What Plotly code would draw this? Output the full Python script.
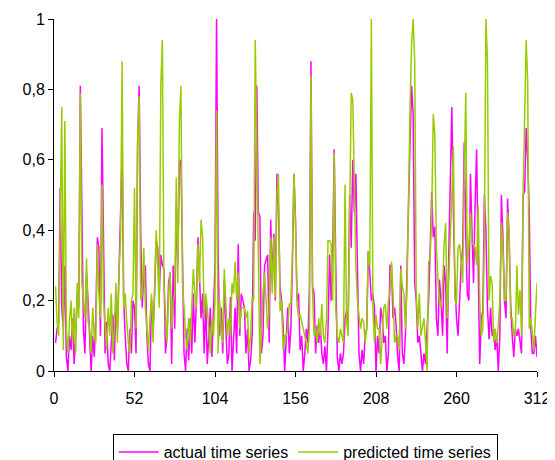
import plotly.graph_objects as go

x_values = list(range(1, 313))

actual = [
    0.08, 0.12, 0.14, 0.52, 0.18, 0.12, 0.30, 0.04, 0.00, 0.10,
    0.06, 0.15, 0.02, 0.10, 0.22, 0.18, 0.81, 0.45, 0.12, 0.05,
    0.28, 0.20, 0.08, 0.00, 0.10, 0.04, 0.15, 0.38, 0.35, 0.10,
    0.69, 0.37, 0.05, 0.14, 0.02, 0.00, 0.08, 0.16, 0.03, 0.20,
    0.12, 0.26, 0.45, 0.62, 0.20, 0.10, 0.02, 0.00, 0.12, 0.05,
    0.20, 0.18, 0.05, 0.64, 0.81, 0.40, 0.18, 0.28, 0.30, 0.10,
    0.02, 0.00, 0.20, 0.12, 0.22, 0.37, 0.35, 0.22, 0.33, 0.30,
    0.29, 0.05, 0.10, 0.25, 0.28, 0.02, 0.30, 0.12, 0.47, 0.30,
    0.59, 0.60, 0.32, 0.05, 0.00, 0.12, 0.03, 0.15, 0.05, 0.22,
    0.08, 0.20, 0.38, 0.28, 0.15, 0.22, 0.05, 0.20, 0.02, 0.10,
    0.18, 0.04, 0.20, 0.30, 1.00, 0.34, 0.10, 0.18, 0.05, 0.26,
    0.12, 0.02, 0.05, 0.21, 0.00, 0.10, 0.18, 0.05, 0.36, 0.10,
    0.22, 0.20, 0.18, 0.05, 0.12, 0.00, 0.03, 0.10, 0.45, 0.37,
    0.81, 0.45, 0.44, 0.05, 0.10, 0.30, 0.32, 0.33, 0.08, 0.43,
    0.25, 0.39, 0.20, 0.56, 0.46, 0.24, 0.20, 0.13, 0.00, 0.10,
    0.18, 0.05, 0.12, 0.30, 0.56, 0.43, 0.20, 0.22, 0.06, 0.10,
    0.00, 0.05, 0.12, 0.08, 0.24, 0.88, 0.24, 0.22, 0.05, 0.13,
    0.08, 0.13, 0.05, 0.02, 0.07, 0.00, 0.12, 0.33, 0.20, 0.33,
    0.63, 0.30, 0.04, 0.00, 0.05, 0.02, 0.05, 0.15, 0.17, 0.14,
    0.50, 0.35, 0.60, 0.45, 0.56, 0.30, 0.05, 0.00, 0.06, 0.02,
    0.10, 0.12, 0.34, 0.28, 0.20, 0.22, 0.18, 0.00, 0.10, 0.05,
    0.18, 0.15, 0.08, 0.10, 0.00, 0.05, 0.30, 0.30, 0.15, 0.18,
    0.13, 0.04, 0.00, 0.30, 0.05, 0.02, 0.10, 0.28, 0.43, 0.65,
    0.81, 0.73, 0.25, 0.20, 0.08, 0.10, 0.05, 0.00, 0.05, 0.02,
    0.12, 0.20, 0.35, 0.51, 0.38, 0.41, 0.15, 0.10, 0.26, 0.20,
    0.10, 0.30, 0.25, 0.05, 0.33, 0.56, 0.75, 0.45, 0.25, 0.15,
    0.10, 0.20, 0.30, 0.35, 0.65, 0.38, 0.22, 0.20, 0.56, 0.40,
    0.25, 0.47, 0.63, 0.30, 0.02, 0.15, 0.17, 0.50, 0.40, 0.18,
    0.09, 0.18, 0.10, 0.12, 0.06, 0.10, 0.00, 0.10, 0.50, 0.38,
    0.20, 0.15, 0.49, 0.37, 0.19, 0.10, 0.04, 0.12, 0.10, 0.12,
    0.08, 0.05, 0.50, 0.51, 0.69, 0.60, 0.45, 0.12, 0.05, 0.05,
    0.10, 0.04,
]

predicted = [
    0.24, 0.14, 0.10, 0.51, 0.75, 0.06, 0.71, 0.12, 0.05, 0.14,
    0.20, 0.08, 0.18, 0.05, 0.25, 0.15, 0.79, 0.25, 0.20, 0.15,
    0.32, 0.14, 0.12, 0.05, 0.18, 0.10, 0.08, 0.36, 0.22, 0.15,
    0.53, 0.20, 0.13, 0.06, 0.18, 0.10, 0.22, 0.05, 0.12, 0.25,
    0.08, 0.28, 0.38, 0.88, 0.18, 0.22, 0.14, 0.08, 0.05, 0.20,
    0.22, 0.52, 0.12, 0.65, 0.78, 0.20, 0.22, 0.35, 0.18, 0.12,
    0.06, 0.15, 0.22, 0.08, 0.28, 0.40, 0.30, 0.18, 0.81, 0.94,
    0.25, 0.15, 0.08, 0.22, 0.28, 0.12, 0.20, 0.22, 0.55, 0.25,
    0.71, 0.81, 0.25, 0.18, 0.10, 0.06, 0.15, 0.08, 0.20, 0.29,
    0.22, 0.18, 0.36, 0.25, 0.43, 0.38, 0.15, 0.22, 0.18, 0.12,
    0.05, 0.15, 0.10, 0.20, 0.74, 0.05, 0.20, 0.12, 0.08, 0.29,
    0.18, 0.10, 0.15, 0.10, 0.25, 0.22, 0.31, 0.20, 0.28, 0.12,
    0.18, 0.18, 0.18, 0.15, 0.17, 0.05, 0.10, 0.21, 0.20, 0.94,
    0.64, 0.30, 0.02, 0.10, 0.22, 0.28, 0.20, 0.12, 0.18, 0.38,
    0.22, 0.38, 0.21, 0.50, 0.56, 0.17, 0.20, 0.06, 0.10, 0.10,
    0.12, 0.19, 0.19, 0.33, 0.56, 0.42, 0.19, 0.15, 0.16, 0.14,
    0.12, 0.10, 0.08, 0.05, 0.12, 0.84, 0.22, 0.10, 0.12, 0.08,
    0.15, 0.10, 0.19, 0.10, 0.08, 0.15, 0.37, 0.37, 0.36, 0.20,
    0.62, 0.18, 0.10, 0.08, 0.12, 0.10, 0.08, 0.53, 0.14, 0.10,
    0.48, 0.79, 0.77, 0.50, 0.30, 0.20, 0.15, 0.12, 0.15, 0.14,
    0.08, 0.12, 0.34, 0.30, 1.00, 0.18, 0.08, 0.16, 0.12, 0.12,
    0.02, 0.10, 0.18, 0.19, 0.12, 0.20, 0.22, 0.31, 0.22, 0.08,
    0.10, 0.10, 0.06, 0.29, 0.24, 0.22, 0.12, 0.23, 0.56, 0.75,
    0.93, 1.00, 0.88, 0.22, 0.12, 0.22, 0.10, 0.13, 0.15, 0.08,
    0.00, 0.31, 0.32, 0.45, 0.73, 0.67, 0.35, 0.26, 0.20, 0.18,
    0.24, 0.36, 0.42, 0.15, 0.30, 0.38, 0.50, 0.64, 0.20, 0.19,
    0.35, 0.36, 0.31, 0.25, 0.55, 0.79, 0.30, 0.36, 0.45, 0.36,
    0.36, 0.35, 0.30, 0.47, 0.20, 0.10, 0.12, 0.37, 1.00, 0.88,
    0.20, 0.27, 0.25, 0.08, 0.12, 0.08, 0.13, 0.20, 0.42, 0.35,
    0.20, 0.20, 0.45, 0.40, 0.15, 0.15, 0.10, 0.10, 0.30, 0.16,
    0.23, 0.10, 0.50, 0.76, 0.94, 0.82, 0.12, 0.15, 0.10, 0.06,
    0.16, 0.25,
]

x_ticks = [0, 52, 104, 156, 208, 260, 312]
y_ticks = [0, 0.2, 0.4, 0.6, 0.8, 1.0]

font_family = "Liberation Sans, Arial, sans-serif"

fig = go.Figure()
fig.add_trace(go.Scatter(
    x=x_values, y=actual, mode="lines", name="actual time series",
    line=dict(color="#FF00FF", width=1.5),
))
fig.add_trace(go.Scatter(
    x=x_values, y=predicted, mode="lines", name="predicted time series",
    line=dict(color="#99CC00", width=1.5),
))

# the page body has an 8px margin, so the figure is 547x452 and sits at (8, 8)
fig.update_layout(
    width=547, height=452,
    margin=dict(l=46, r=18, t=11, b=89, autoexpand=False),
    paper_bgcolor="white", plot_bgcolor="white",
    separators=", ",
    font=dict(family=font_family, size=16, color="black"),
    showlegend=True,
    legend=dict(
        orientation="h", x=0.52, xanchor="center", y=-0.179, yanchor="top",
        bordercolor="black", borderwidth=1, bgcolor="white",
        font=dict(family=font_family, size=16, color="black"),
        itemwidth=40, tracegroupgap=0,
    ),
)
fig.update_xaxes(
    range=[0, 312], tickvals=x_ticks, ticktext=[str(v) for v in x_ticks],
    showgrid=False, zeroline=False, showline=True, linecolor="black", linewidth=1,
    ticks="outside", ticklen=5, tickcolor="black", tickwidth=1,
    ticklabelstandoff=8, automargin=False,
)
fig.update_yaxes(
    range=[0, 1], tickvals=y_ticks,
    showgrid=False, zeroline=False, showline=True, linecolor="black", linewidth=1,
    ticks="outside", ticklen=5, tickcolor="black", tickwidth=1,
    automargin=False,
)

fig.write_html("out.html")
